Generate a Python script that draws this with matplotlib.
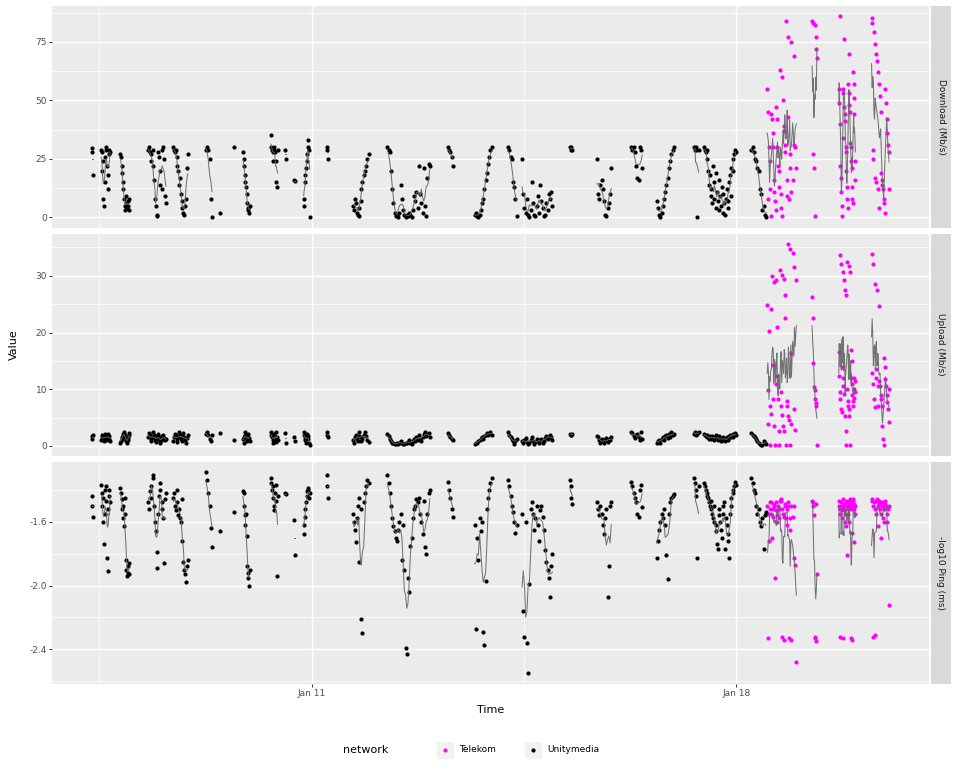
import numpy as np
import pandas as pd
import matplotlib
matplotlib.use("Agg")
import matplotlib.pyplot as plt
from matplotlib.patches import Rectangle
from matplotlib.ticker import FixedLocator

# ---------------- data (time in days of January) ----------------
um_time = [
    7.38, 7.39, 7.40,
    7.53, 7.54, 7.55, 7.56, 7.57, 7.58, 7.59, 7.60, 7.61, 7.62, 7.63, 7.64, 7.65, 7.66, 7.67, 7.68,
    7.85, 7.86, 7.87, 7.88, 7.89, 7.90, 7.91, 7.92, 7.93, 7.94, 7.95, 7.96, 7.97, 7.98, 7.99, 8.00,
    8.31, 8.32, 8.34, 8.35, 8.36, 8.38, 8.39, 8.40, 8.42, 8.43, 8.45, 8.46, 8.47, 8.49, 8.50, 8.51, 8.53, 8.54, 8.55, 8.57, 8.58, 8.60,
    8.72, 8.73, 8.75, 8.76, 8.78, 8.79, 8.80, 8.82, 8.83, 8.85, 8.86, 8.87, 8.89, 8.90, 8.92, 8.93, 8.94, 8.96,
    9.26, 9.28, 9.30, 9.32, 9.34, 9.36,
    9.49,
    9.73,
    9.87, 9.88, 9.89, 9.90, 9.91, 9.92, 9.93, 9.94, 9.95, 9.96, 9.97, 9.98,
    10.33, 10.34, 10.35, 10.36, 10.37, 10.38, 10.39, 10.40, 10.41, 10.42, 10.43, 10.44,
    10.56, 10.58,
    10.71, 10.73,
    10.87, 10.88, 10.89, 10.90, 10.91, 10.92, 10.93, 10.94, 10.95, 10.96, 10.97,
    11.25, 11.26, 11.27,
    11.69, 11.70, 11.72, 11.73, 11.75, 11.76, 11.78, 11.79, 11.81, 11.82, 11.84, 11.86, 11.88, 11.90, 11.92, 11.94,
    12.25, 12.27, 12.29, 12.31, 12.33, 12.35, 12.37, 12.39, 12.41, 12.43, 12.45, 12.47, 12.49, 12.51, 12.53, 12.55, 12.57, 12.59,
    12.61, 12.63, 12.65, 12.67, 12.69, 12.71, 12.73, 12.75, 12.77, 12.79, 12.81, 12.83, 12.85, 12.87, 12.89, 12.91, 12.93, 12.95,
    13.25, 13.27, 13.29, 13.31, 13.33,
    13.69, 13.71, 13.73, 13.75, 13.77, 13.79, 13.81, 13.83, 13.85, 13.87, 13.89, 13.91, 13.93, 13.95, 13.97,
    14.24, 14.26, 14.28, 14.30, 14.32, 14.34, 14.36, 14.38,
    14.47, 14.49, 14.51, 14.53, 14.55, 14.57, 14.59, 14.61, 14.63, 14.65, 14.67, 14.69, 14.71, 14.73, 14.75, 14.77, 14.79, 14.81,
    14.83, 14.85, 14.87, 14.89, 14.91, 14.93, 14.95, 14.97,
    15.26, 15.27, 15.28, 15.30,
    15.70, 15.72, 15.74, 15.76, 15.78, 15.80, 15.82, 15.84, 15.86, 15.88, 15.90, 15.92, 15.94,
    16.27, 16.29, 16.31, 16.33, 16.35, 16.37, 16.39, 16.41, 16.43, 16.45,
    16.69, 16.71, 16.73, 16.75, 16.77, 16.79, 16.81, 16.83, 16.85, 16.87, 16.89, 16.91, 16.93, 16.95, 16.97,
    17.31, 17.32, 17.33, 17.34, 17.36, 17.38,
    17.47, 17.48, 17.50, 17.51, 17.52, 17.54, 17.55, 17.56, 17.58, 17.59, 17.60, 17.62, 17.63, 17.64, 17.66, 17.67, 17.68, 17.70,
    17.71, 17.72, 17.74, 17.75, 17.76, 17.78, 17.79, 17.80, 17.82, 17.83, 17.84, 17.86, 17.87, 17.88, 17.90, 17.91, 17.92, 17.94,
    17.95, 17.96, 17.98, 17.99,
    18.25, 18.27, 18.29, 18.31, 18.33, 18.35, 18.37, 18.39, 18.41, 18.43, 18.45, 18.47, 18.49,
]
um_download = [
    29.5, 28, 18,
    29, 28, 20, 24, 8, 5, 15, 26, 29, 30, 22, 18, 12, 27, 29, 28,
    27, 26, 22, 19, 15, 12, 8, 5, 3, 6, 9, 4, 7, 5, 3, 8,
    29, 30, 28, 27, 24, 22, 29, 16, 8, 5, 0.5, 1, 28, 26, 20, 14, 12, 29, 30, 25, 9, 6,
    30, 29, 28, 29, 26, 22, 20, 14, 17, 10, 7, 4, 2, 1, 5, 8, 21, 27,
    29, 30, 29, 25, 8, 0,
    2,
    29.9,
    28, 25, 22, 18, 15, 13, 10, 6, 4, 3, 2, 5,
    35, 30, 29, 28, 24, 30, 29, 28, 24, 15, 13, 29,
    29, 25,
    16, 15.5,
    5, 8, 15, 18, 21, 24, 27, 30, 33, 29, 0,
    30, 29, 25,
    5, 3, 8, 6, 2, 1, 4, 0.5, 7, 12, 15, 18, 20, 22, 25, 27,
    30, 29, 28, 20, 12, 6, 2, 0.5, 1, 0, 2, 14, 8, 3, 1, 0, 1, 0.5,
    2, 1, 0, 3, 9, 7, 11, 4, 22, 10, 6, 2, 21, 5, 0.5, 17, 23, 22,
    30, 29, 28, 26, 22,
    1, 2, 0.5, 0, 1, 3, 6, 8, 12, 16, 19, 23, 26, 29, 30,
    30, 29, 26, 25, 15, 13, 8, 0.5,
    25, 10, 4, 2, 8, 1, 0, 3, 15, 6, 1, 0.5, 5, 9, 2, 14, 7, 4,
    0.5, 1, 6, 3, 10, 8, 11, 5,
    30, 29, 30, 29,
    25, 10, 8, 14, 16, 12, 7, 1, 0.5, 4, 6, 10, 21,
    30, 29, 30, 28, 22, 17, 16, 30, 29, 21,
    7, 4, 1, 0, 2, 5, 8, 11, 14, 17, 21, 24, 27, 29, 30,
    30, 29, 30, 29, 0, 29,
    30, 29, 28, 29, 25, 20, 14, 18, 9, 12, 6, 22, 15, 8, 4, 19, 11, 7,
    3, 16, 9, 5, 13, 2, 10, 6, 1, 8, 12, 4, 7, 15, 18, 9, 21, 25,
    20, 27, 29, 28,
    29, 30, 28, 25, 24, 21, 20, 12, 10, 3, 5, 1, 0,
]
um_upload = [
    1.2, 1.8, 2.0,
    1.0, 1.5, 2.0, 1.7, 1.2, 0.8, 1.3, 2.2, 1.9, 1.4, 1.0, 1.6, 2.1, 1.8, 1.2, 0.9,
    0.6, 0.9, 1.2, 1.5, 1.8, 2.2, 2.4, 2.0, 1.6, 1.1, 0.8, 0.6, 1.0, 1.4, 1.9, 2.3,
    1.5, 2.3, 2.0, 1.2, 0.8, 1.6, 2.4, 1.9, 1.0, 0.7, 1.3, 1.8, 2.1, 1.5, 0.9, 0.6, 1.1, 1.7, 2.0, 1.4, 1.0, 1.2,
    0.8, 1.5, 2.2, 1.9, 1.2, 0.7, 1.6, 2.4, 2.0, 1.3, 0.9, 1.8, 2.3, 1.5, 1.0, 0.6, 1.4, 2.0,
    2.2, 2.5, 2.0, 1.2, 0.8, 1.9,
    2.3,
    1.1,
    1.2, 0.6, 1.5, 2.0, 2.4, 1.8, 1.0, 0.8, 1.6, 2.2, 1.4, 0.9,
    2.5, 2.0, 1.5, 1.0, 0.5, 1.8, 2.2, 1.2, 0.7, 2.4, 1.6, 1.0,
    2.3, 0.5,
    1.6, 0.9,
    2.5, 2.0, 1.4, 1.0, 0.6, 1.5, 2.2, 1.8, 1.2, 0.5, 0.2,
    2.5, 2.0, 1.6,
    1.0, 0.5, 1.5, 2.0, 1.2, 0.8, 1.8, 2.4, 1.6, 0.9, 1.3, 2.0, 2.5, 1.7, 1.1, 0.7,
    2.2, 1.8, 1.3, 0.9, 0.6, 0.5, 0.4, 0.3, 0.5, 0.4, 0.6, 0.8, 0.5, 0.3, 0.4, 0.6, 0.5, 0.7,
    1.0, 0.6, 0.4, 0.8, 1.2, 0.9, 1.5, 1.1, 1.9, 1.3, 0.8, 1.6, 2.1, 2.4, 1.7, 2.0, 2.3, 1.5,
    2.3, 2.0, 1.5, 1.2, 1.0,
    0.3, 0.6, 0.5, 0.8, 1.0, 1.2, 1.5, 1.3, 1.8, 2.0, 2.3, 1.9, 2.2, 2.4, 2.0,
    2.5, 2.0, 1.6, 1.2, 0.8, 0.4, 0.9, 1.3,
    0.8, 0.5, 1.0, 1.4, 0.7, 0.3, 0.6, 1.1, 1.5, 0.9, 0.4, 0.7, 1.2, 0.8, 0.5, 1.0, 1.3, 0.6,
    0.9, 1.4, 1.8, 1.2, 1.6, 2.0, 1.5, 1.1,
    2.2, 2.0, 1.9, 2.2,
    1.8, 1.5, 1.0, 0.6, 1.2, 0.8, 0.5, 1.0, 1.4, 0.7, 1.2, 1.0, 1.6,
    2.5, 2.3, 1.8, 1.4, 2.0, 2.2, 1.6, 1.0, 2.4, 1.3,
    0.5, 0.8, 1.0, 0.6, 1.2, 1.5, 1.0, 1.8, 2.0, 1.4, 2.2, 1.6, 2.4, 1.9, 2.1,
    2.2, 2.4, 2.0, 2.3, 2.1, 2.5,
    2.2, 2.0, 1.8, 1.6, 1.9, 1.5, 1.3, 1.7, 1.4, 1.2, 1.8, 1.6, 1.3, 1.1, 1.5, 1.9, 1.4, 1.0,
    1.3, 1.7, 1.2, 0.9, 1.4, 1.1, 1.6, 1.3, 0.8, 1.2, 1.5, 1.0, 1.3, 1.7, 2.0, 1.5, 1.8, 2.2,
    1.6, 2.0, 2.3, 1.9,
    2.3, 2.0, 1.8, 1.5, 1.2, 0.8, 0.5, 0.3, 0.2, 0.2, 0.9, 0.6, 0.3,
]
um_ping = [
    -1.44, -1.50, -1.57,
    -1.37, -1.42, -1.50, -1.45, -1.60, -1.74, -1.55, -1.40, -1.38, -1.47, -1.83, -1.52, -1.91, -1.44, -1.40, -1.48,
    -1.39, -1.42, -1.46, -1.52, -1.58, -1.50, -1.63, -1.45, -1.55, -1.84, -1.90, -1.94, -1.92, -1.88, -1.93, -1.86,
    -1.48, -1.52, -1.41, -1.38, -1.45, -1.31, -1.33, -1.50, -1.60, -1.66, -1.79, -1.89, -1.55, -1.44, -1.36, -1.40, -1.48, -1.52, -1.58, -1.86, -1.46, -1.42,
    -1.45, -1.42, -1.50, -1.53, -1.40, -1.48, -1.56, -1.52, -1.58, -1.60, -1.46, -1.72, -1.85, -1.90, -1.93, -1.98, -1.88, -1.84,
    -1.29, -1.34, -1.42, -1.50, -1.64, -1.76,
    -1.66,
    -1.54,
    -1.41, -1.42, -1.50, -1.56, -1.62, -1.55, -1.69, -1.88, -1.92, -1.95, -2.00, -1.90,
    -1.33, -1.36, -1.40, -1.38, -1.45, -1.50, -1.53, -1.42, -1.37, -1.47, -1.94, -1.44,
    -1.42, -1.43,
    -1.59, -1.81,
    -1.68, -1.62, -1.57, -1.52, -1.48, -1.44, -1.41, -1.39, -1.40, -1.45, -1.42,
    -1.31, -1.38, -1.45,
    -1.55, -1.60, -1.65, -1.73, -1.58, -1.50, -1.45, -1.85, -1.52, -2.21, -2.30, -1.48, -1.42, -1.38, -1.34, -1.36,
    -1.31, -1.36, -1.42, -1.50, -1.58, -1.63, -1.66, -1.70, -1.72, -1.65, -1.60, -1.55, -1.84, -1.62, -1.90, -2.39, -2.43, -1.95,
    -2.04, -1.75, -1.70, -1.58, -1.52, -1.50, -1.46, -1.48, -1.45, -1.55, -1.60, -1.68, -1.47, -1.76, -1.80, -1.55, -1.42, -1.40,
    -1.35, -1.40, -1.45, -1.52, -1.57,
    -1.62, -2.27, -1.70, -1.84, -1.58, -1.66, -1.60, -2.29, -2.37, -1.97, -1.52, -1.45, -1.40, -1.36, -1.33,
    -1.34, -1.38, -1.44, -1.50, -1.54, -1.60, -1.67, -1.62,
    -1.55, -2.16, -2.32, -1.60, -2.36, -2.55, -1.99, -1.52, -1.48, -1.55, -1.65, -1.58, -1.50, -1.62, -1.72, -1.53, -1.50, -1.57,
    -1.65, -1.78, -1.85, -1.90, -1.95, -2.07, -1.88, -1.80,
    -1.34, -1.38, -1.45, -1.49,
    -1.48, -1.52, -1.56, -1.50, -1.55, -1.62, -1.68, -1.58, -1.52, -2.07, -1.88, -1.50, -1.48,
    -1.35, -1.38, -1.42, -1.45, -1.48, -1.55, -1.57, -1.40, -1.37, -1.51,
    -1.83, -1.72, -1.65, -1.60, -1.55, -1.58, -1.52, -1.62, -1.81, -1.96, -1.55, -1.48, -1.45, -1.44, -1.43,
    -1.33, -1.36, -1.40, -1.44, -1.83, -1.38,
    -1.36, -1.38, -1.40, -1.42, -1.44, -1.45, -1.48, -1.50, -1.52, -1.47, -1.55, -1.58, -1.50, -1.60, -1.62, -1.66, -1.74, -1.77,
    -1.56, -1.52, -1.60, -1.65, -1.70, -1.55, -1.50, -1.48, -1.77, -1.58, -1.62, -1.68, -1.72, -1.83, -1.55, -1.50, -1.45, -1.42,
    -1.40, -1.38, -1.35, -1.37,
    -1.33, -1.36, -1.40, -1.42, -1.50, -1.55, -1.52, -1.60, -1.63, -1.58, -1.77, -1.56, -1.54,
]

tk_time = [
    18.51, 18.52, 18.53, 18.54, 18.55, 18.56, 18.57, 18.58, 18.59, 18.60, 18.61, 18.62, 18.63, 18.64, 18.65, 18.66,
    18.67, 18.68, 18.69, 18.70, 18.71, 18.72, 18.73, 18.74, 18.75, 18.76, 18.77, 18.78, 18.79, 18.80, 18.81, 18.82,
    18.83, 18.84, 18.85, 18.86, 18.87, 18.88, 18.89, 18.90, 18.91, 18.93, 18.95, 18.96, 18.97, 18.99,
    19.25, 19.26, 19.27, 19.28, 19.29, 19.30, 19.31, 19.32, 19.33,
    19.690, 19.697, 19.704, 19.711, 19.718, 19.725, 19.732, 19.739, 19.746, 19.753, 19.760, 19.767, 19.774, 19.781,
    19.788, 19.795, 19.802, 19.809, 19.816, 19.823, 19.830, 19.837, 19.844, 19.851, 19.858, 19.865, 19.872, 19.879,
    19.886, 19.893, 19.900, 19.907, 19.914, 19.921, 19.928, 19.935, 19.942, 19.949, 19.956, 19.963,
    20.23, 20.24, 20.25, 20.26, 20.27, 20.28, 20.29, 20.30, 20.31, 20.32, 20.33, 20.34, 20.35, 20.36, 20.37,
    20.38, 20.39, 20.40, 20.41, 20.42, 20.43, 20.44, 20.45, 20.46, 20.47, 20.48, 20.49, 20.50, 20.51, 20.52,
]
tk_download = [
    55, 45, 8, 30, 24, 12, 0.4, 44, 42, 36, 30, 16, 11, 7, 3, 47,
    42, 30, 22, 20, 13, 63, 10, 4, 60, 0.4, 50, 39, 37, 31, 28, 84,
    16, 9, 43, 77, 8, 27, 21, 75, 11, 16, 31, 69, 30, 21,
    84, 27, 83, 21, 82, 0.4, 77, 72, 68,
    55, 49, 40, 86, 22, 17, 11, 5, 0.4, 34, 55, 53, 76, 47,
    44, 41, 30, 28, 20, 13, 8, 4, 57, 53, 70, 48, 45, 32,
    30, 24, 21, 13, 8, 62, 6, 57, 51, 44, 24, 16,
    85, 83, 29, 25, 79, 74, 17, 15, 70, 67, 62, 12, 4, 57, 52,
    45, 19, 16, 14, 12, 8, 6, 2, 55, 49, 42, 36, 31, 28, 12,
]
tk_upload = [
    24.9, 3.8, 9.8, 20.2, 7.1, 0.1, 24.1, 5.6, 30.0, 8.3, 14.2, 29.0, 3.6, 0.1, 29.2, 11.0,
    12.4, 21.0, 8.3, 2.6, 0.1, 31.0, 9.5, 7.0, 30.2, 5.5, 3.6, 29.5, 2.6, 22.6, 26.7, 0.1,
    8.0, 7.0, 35.6, 5.3, 4.5, 34.8, 0.1, 16.4, 3.8, 34.0, 6.5, 31.6, 2.9, 29.2,
    26.3, 22.6, 14.7, 10.4, 9.8, 8.3, 7.0, 7.5, 0.1,
    16.6, 12.4, 9.5, 33.7, 8.3, 6.5, 32.0, 6.0, 14.0, 30.6, 12.0, 10.5, 29.2, 9.2,
    5.3, 27.5, 2.6, 0.1, 26.7, 10.0, 32.4, 8.0, 7.0, 31.7, 6.5, 5.3, 30.6, 0.1,
    17.0, 12.0, 15.0, 11.0, 9.0, 8.0, 7.0, 12.0, 10.0, 8.5, 9.5, 11.5,
    33.9, 12.8, 11.0, 32.0, 8.3, 6.8, 28.5, 13.5, 12.0, 27.5, 10.5, 7.0, 24.6, 11.5, 10.5,
    9.0, 8.3, 7.0, 3.6, 1.2, 0.1, 15.6, 14.0, 11.8, 10.5, 9.0, 7.7, 6.5, 4.3, 10.0,
]
tk_ping = [
    -1.50, -2.33, -1.55, -1.72, -1.48, -1.52, -1.48, -1.55, -1.70, -1.52, -1.57, -1.50, -1.49, -1.95, -1.53, -1.48,
    -1.56, -1.60, -1.50, -1.52, -1.58, -1.47, -1.46, -1.47, -2.32, -1.52, -1.55, -2.34, -1.57, -1.49, -1.50, -1.58,
    -1.62, -1.52, -1.48, -1.50, -2.33, -1.58, -1.65, -1.50, -2.34, -1.57, -1.50, -1.83, -1.87, -2.48,
    -1.47, -1.48, -1.50, -1.56, -2.32, -2.33, -1.49, -2.35, -1.93,
    -1.47, -1.50, -1.52, -2.32, -1.55, -1.48, -1.50, -1.53, -1.58, -1.46, -2.33, -1.50, -1.49, -1.52,
    -1.60, -1.55, -1.48, -1.63, -1.50, -1.47, -1.81, -1.55, -1.52, -1.49, -1.60, -1.50, -1.46, -1.48,
    -2.33, -1.52, -1.67, -2.34, -1.50, -1.47, -1.46, -1.49, -1.73, -1.52, -1.50, -1.55,
    -1.47, -1.46, -2.32, -1.50, -1.48, -1.52, -2.31, -1.55, -1.47, -1.46, -1.50, -1.63, -1.49, -1.47, -1.52,
    -1.55, -1.70, -1.50, -1.48, -1.58, -1.60, -1.52, -1.49, -1.47, -1.50, -1.55, -1.60, -1.52, -2.12, -1.50,
]

networks = ["Telekom", "Unitymedia"]
network_colors = ["#FF00FF", "#000000"]
facet_labels = ["Download (Mb/s)", "Upload (Mb/s)", "-log10 Ping (ms)"]
y_major = [[0, 25, 50, 75], [0, 10, 20, 30], [-2.4, -2.0, -1.6]]
y_labels = [["0", "25", "50", "75"], ["0", "10", "20", "30"], ["-2.4", "-2.0", "-1.6"]]
x_major = [11, 18]
x_labels = ["Jan 11", "Jan 18"]
x_minor = [7.5, 14.5]

# ---------------- build long data ----------------
frames = []
for net, t, d, u, p in [("Unitymedia", um_time, um_download, um_upload, um_ping),
                        ("Telekom", tk_time, tk_download, tk_upload, tk_ping)]:
    df = pd.DataFrame({"time": t, "network": net})
    for lab, vals in zip(facet_labels, [d, u, p]):
        df[lab] = vals
    frames.append(df)
data = pd.concat(frames, ignore_index=True).sort_values("time").reset_index(drop=True)

# ---------------- figure ----------------
W, H = 960, 777
fig = plt.figure(figsize=(W / 100, H / 100), dpi=100)
fig.patch.set_facecolor("white")

left, right = 52, 929
tops = [6, 234, 462]
ph = 221.5
strip_l, strip_w = 931, 20

tmin, tmax = data["time"].min(), data["time"].max()
xpad = 0.05 * (tmax - tmin)

for i, lab in enumerate(facet_labels):
    ax = fig.add_axes([left / W, 1 - (tops[i] + ph) / H, (right - left) / W, ph / H])
    ax.set_facecolor("#EBEBEB")
    for s in ax.spines.values():
        s.set_visible(False)
    # points
    for net, col in zip(networks, network_colors):
        sub = data[data["network"] == net]
        ax.scatter(sub["time"], sub[lab], s=9, color=col, linewidths=0, zorder=2)
    # grey running-mean line, broken between measurement sessions
    for net in networks:
        sub = data[data["network"] == net].sort_values("time")
        session = (sub["time"].diff() > 0.08).cumsum()
        for _, g in sub.groupby(session):
            if len(g) < 2:
                continue
            rm = g[lab].rolling(5, center=True, min_periods=1).mean()
            ax.plot(g["time"], rm, color="#666666", lw=0.75, alpha=0.9, zorder=3)
    vmin, vmax = data[lab].min(), data[lab].max()
    ypad = 0.05 * (vmax - vmin)
    ax.set_ylim(vmin - ypad, vmax + ypad)
    ax.set_xlim(tmin - xpad, tmax + xpad)
    ax.set_yticks(y_major[i])
    ax.set_yticklabels(y_labels[i])
    step = y_major[i][1] - y_major[i][0]
    lo, hi = ax.get_ylim()
    minors = [y_major[i][0] - step / 2 + k * step for k in range(-3, len(y_major[i]) + 3)]
    minors = [m for m in minors if lo < m < hi]
    ax.yaxis.set_minor_locator(FixedLocator(minors))
    ax.set_xticks(x_major)
    ax.xaxis.set_minor_locator(FixedLocator(x_minor))
    if i == 2:
        ax.set_xticklabels(x_labels)
    else:
        ax.tick_params(axis="x", which="major", labelbottom=False)
    ax.grid(which="major", color="white", lw=1.05)
    ax.grid(which="minor", color="white", lw=0.55)
    ax.set_axisbelow(True)
    ax.tick_params(which="major", length=2.0, width=0.7, color="#333333",
                   labelcolor="#4D4D4D", labelsize=6.5, pad=1.6)
    ax.tick_params(which="minor", length=0)
    if i != 2:
        ax.tick_params(axis="x", which="major", length=0)
    # strip
    sax = fig.add_axes([strip_l / W, 1 - (tops[i] + ph) / H, strip_w / W, ph / H])
    sax.set_facecolor("#D9D9D9")
    sax.set_xticks([]); sax.set_yticks([])
    for s in sax.spines.values():
        s.set_visible(False)
    sax.text(0.5, 0.5, lab, rotation=270, ha="center", va="center",
             fontsize=6.5, color="#1A1A1A", transform=sax.transAxes)

# axis titles
fig.text((left + right) / 2 / W, 1 - 710 / H, "Time", ha="center", va="center", fontsize=8, color="black")
fig.text(14 / W, 1 - (tops[0] + tops[2] + ph) / 2 / H, "Value", ha="center", va="center",
         rotation=90, fontsize=8, color="black")

# legend
lax = fig.add_axes([0, 0, 1, 1], frameon=False)
lax.set_xlim(0, W); lax.set_ylim(H, 0)
lax.set_xticks([]); lax.set_yticks([])
lax.text(343, 750, "network", ha="left", va="center", fontsize=8, color="black")
key_x = [445, 533]
lab_x = [459, 547]
for net, col, kx, tx in zip(networks, network_colors, key_x, lab_x):
    lax.add_patch(Rectangle((kx - 8.5, 750 - 8.5), 17, 17, facecolor="#F2F2F2", edgecolor="none"))
    lax.scatter([kx], [750], s=9, color=col, linewidths=0)
    lax.text(tx, 750, net, ha="left", va="center", fontsize=6.5, color="black")

fig.savefig("out.png", dpi=100)
